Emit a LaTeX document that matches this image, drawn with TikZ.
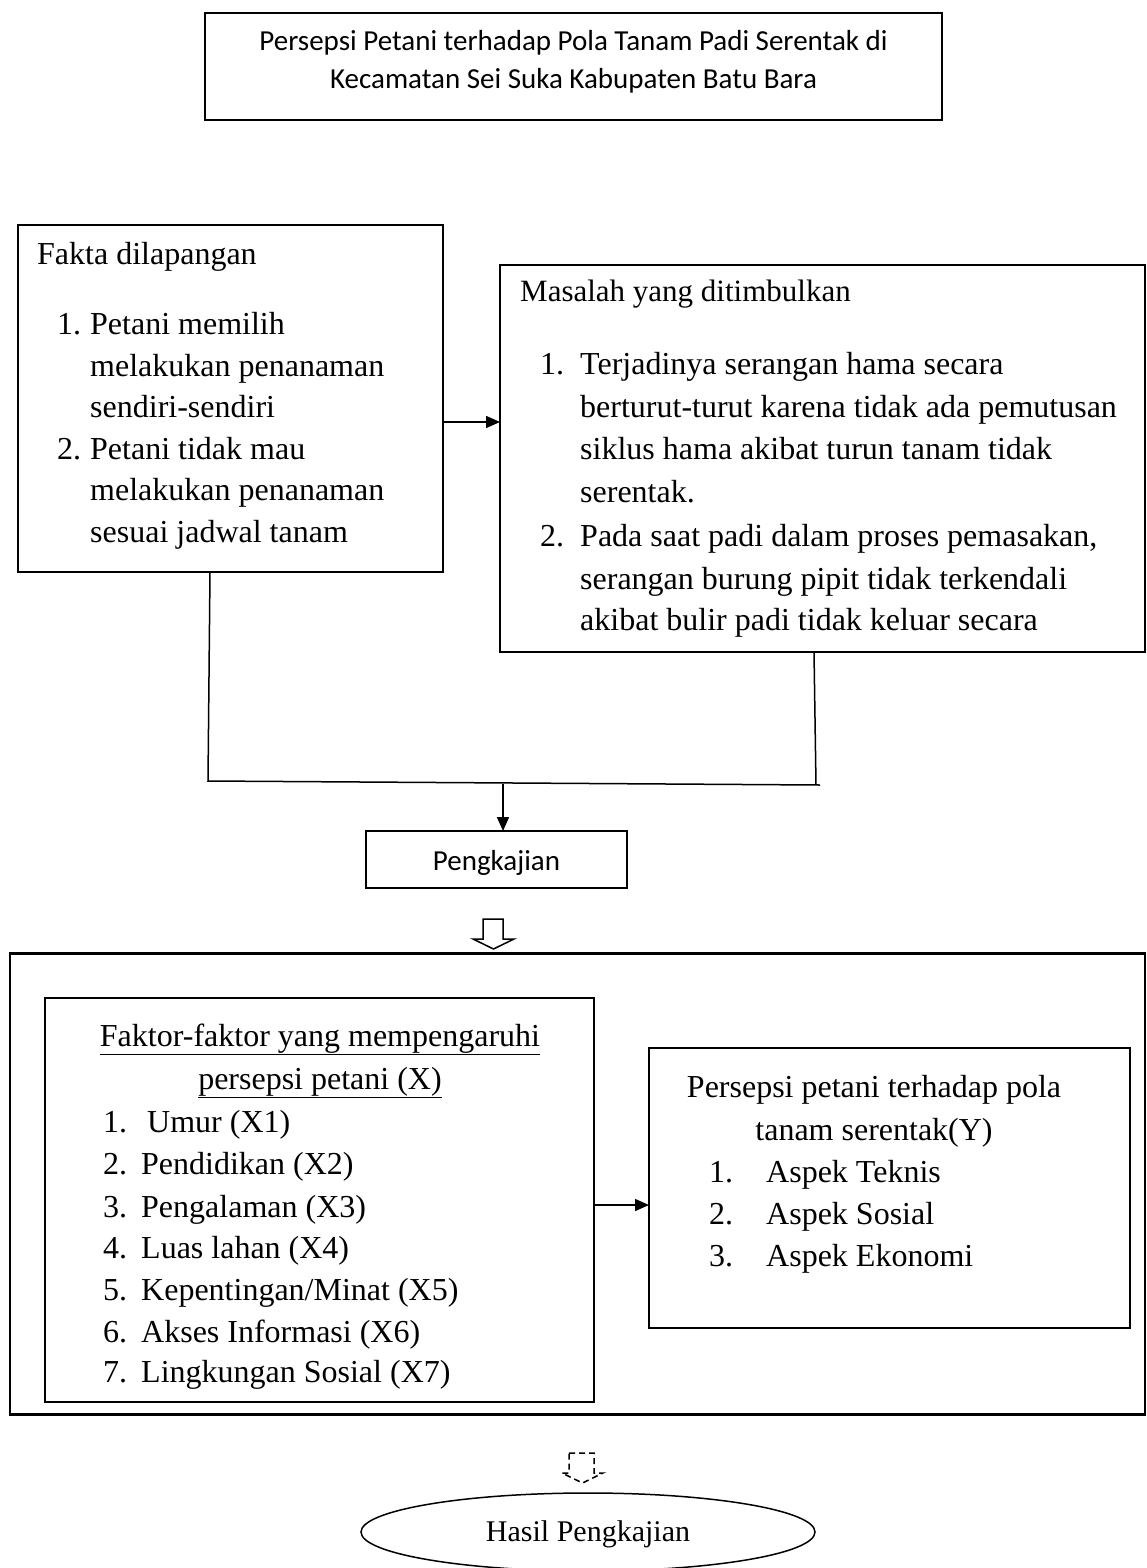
\documentclass[tikz,border=0pt]{standalone}
\usepackage{fontspec}
\setmainfont{Liberation Serif}
\newfontfamily\calib{Carlito}
\usetikzlibrary{arrows.meta,shapes.geometric}
\begin{document}
\begin{tikzpicture}[x=1pt,y=-1pt,
  box/.style={draw,line width=1.5pt,inner sep=0pt,outer sep=0pt},
  txt/.style={anchor=base west,inner sep=0pt,font=\fontsize{32}{42}\selectfont},
  ctxt/.style={anchor=base,inner sep=0pt,font=\fontsize{32}{42}\selectfont},
  stxt/.style={anchor=base,inner sep=0pt,font=\calib\fontsize{29}{38}\selectfont},
  line/.style={line width=1.5pt},
  arr/.style={line width=1.5pt,-{Triangle[length=14pt,width=12pt]}},
  hollow/.style={line width=1.5pt,line join=miter}]
\useasboundingbox (0,0) rectangle (1147,1568);

% top box
\node[box,line width=2pt,minimum width=737pt,minimum height=107pt] (top) at (573.5,66.5) {};
\node[stxt] (top1) at (573.5,51) {Persepsi Petani terhadap Pola Tanam Padi Serentak di};
\node[stxt] (top2) at (573.5,89) {Kecamatan Sei Suka Kabupaten Batu Bara};

% fakta box
\node[box,minimum width=425pt,minimum height=347pt] (fakta) at (230.5,398.5) {};
\node[txt] (f0) at (37,264) {Fakta dilapangan};
\node[txt] (f1n) at (57,334) {1.};
\node[txt] (f1) at (90,334) {Petani memilih};
\node[txt] (f2) at (90,376) {melakukan penanaman};
\node[txt] (f3) at (90,417) {sendiri-sendiri};
\node[txt] (f4n) at (57,459) {2.};
\node[txt] (f4) at (90,459) {Petani tidak mau};
\node[txt] (f5) at (90,500) {melakukan penanaman};
\node[txt] (f6) at (90,542) {sesuai jadwal tanam};

% masalah box
\node[box,minimum width=645pt,minimum height=387pt] (masalah) at (822.5,458.5) {};
\node[txt,font=\fontsize{31}{42}\selectfont] (m0) at (520,301) {Masalah yang ditimbulkan};
\node[txt] (m1n) at (540,374) {1.};
\node[txt] (m1) at (580,374) {Terjadinya serangan hama secara};
\node[txt] (m2) at (580,417) {berturut-turut karena tidak ada pemutusan};
\node[txt] (m3) at (580,459) {siklus hama akibat turun tanam tidak};
\node[txt] (m4) at (580,502) {serentak.};
\node[txt] (m5n) at (540,546) {2.};
\node[txt] (m5) at (580,546) {Pada saat padi dalam proses pemasakan,};
\node[txt] (m6) at (580,589) {serangan burung pipit tidak terkendali};
\node[txt] (m7) at (580,630) {akibat bulir padi tidak keluar secara};

\draw[arr] (fakta.east |- 0,422) -- (masalah.west |- 0,422);

% joining connector
\coordinate (jl) at (208,781);
\coordinate (jr) at (820,785);
\coordinate (jrv) at (816,785);
\coordinate (jm) at (503,784);
\draw[line] ([xshift=-20.5pt]fakta.south) -- (jl) -- (jr);
\draw[line] ([xshift=-8.5pt]masalah.south) -- (jrv);

% pengkajian
\node[box,minimum width=261pt,minimum height=57pt] (peng) at (496.5,859.5) {};
\node[stxt] (pengt) at (496.5,870) {Pengkajian};
\draw[arr] (jm) -- (jm |- peng.north);

% hollow arrow
\draw[hollow] (483,919) -- (503,919) -- (503,939) -- (514,939) -- (493.5,949) -- (473,939) -- (483,939) -- cycle;

% outer box
\node[box,line width=2.5pt,minimum width=1135pt,minimum height=461pt] (outer) at (577.5,1184) {};

% faktor box
\node[box,minimum width=549pt,minimum height=404pt] (faktor) at (319.5,1200) {};
\node[ctxt] (x0) at (320,1046) {\underline{Faktor-faktor yang mempengaruhi}};
\node[ctxt] (x00) at (320,1089) {\underline{persepsi petani (X)}};
\node[txt] (x1n) at (103,1132) {1.};
\node[txt] (x1) at (147,1132) {Umur (X1)};
\node[txt] (x2n) at (103,1174) {2.};
\node[txt] (x2) at (141,1174) {Pendidikan (X2)};
\node[txt] (x3n) at (103,1217) {3.};
\node[txt] (x3) at (141,1217) {Pengalaman (X3)};
\node[txt] (x4n) at (103,1258) {4.};
\node[txt] (x4) at (141,1258) {Luas lahan (X4)};
\node[txt] (x5n) at (103,1300) {5.};
\node[txt] (x5) at (141,1300) {Kepentingan/Minat (X5)};
\node[txt] (x6n) at (103,1342) {6.};
\node[txt] (x6) at (141,1342) {Akses Informasi (X6)};
\node[txt] (x7n) at (103,1382) {7.};
\node[txt] (x7) at (141,1382) {Lingkungan Sosial (X7)};

% persepsi box
\node[box,minimum width=481pt,minimum height=280pt] (persepsi) at (889.5,1188) {};
\node[ctxt] (y0) at (874,1097) {Persepsi petani terhadap pola};
\node[ctxt] (y00) at (874,1140) {tanam serentak(Y)};
\node[txt] (y1n) at (709,1182) {1.};
\node[txt] (y1) at (766,1182) {Aspek Teknis};
\node[txt] (y2n) at (709,1224) {2.};
\node[txt] (y2) at (766,1224) {Aspek Sosial};
\node[txt] (y3n) at (709,1266) {3.};
\node[txt] (y3) at (766,1266) {Aspek Ekonomi};

\draw[arr] (faktor.east |- 0,1205) -- (persepsi.west |- 0,1205);

% dashed hollow arrow
\draw[hollow,dashed,dash pattern=on 6pt off 4pt] (569,1453) -- (594,1453) -- (594,1473) -- (603,1473) -- (582.5,1483) -- (562,1473) -- (569,1473) -- cycle;

% result ellipse
\node[draw,ellipse,line width=1.5pt,inner sep=0pt,minimum width=454pt,minimum height=78pt] (hasil) at (588,1532) {};
\node[ctxt,font=\fontsize{30}{40}\selectfont] (hasilt) at (588,1541) {Hasil Pengkajian};
\end{tikzpicture}
\end{document}
